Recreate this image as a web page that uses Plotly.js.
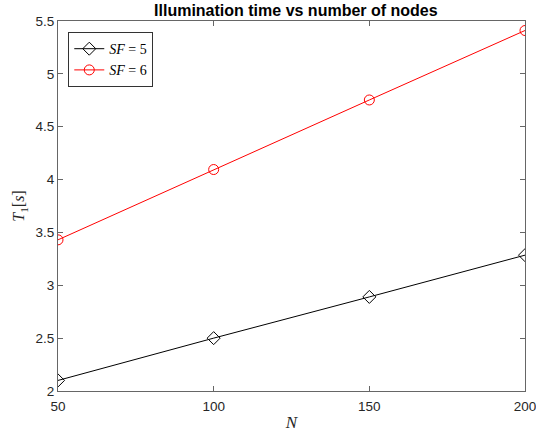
<!DOCTYPE html>
<html><head><meta charset="utf-8">
<script src="https://cdn.plot.ly/plotly-3.0.1.min.js"></script>
<style>html,body{margin:0;padding:0;background:#fff}#chart{width:536px;height:432px}</style>
</head><body><div id="chart"></div>
<script>
const nodes = [50, 100, 150, 200];
const sf5 = [2.10, 2.50, 2.89, 3.285];
const sf6 = [3.43, 4.095, 4.753, 5.41];
const xTicks = [50, 100, 150, 200];
const yTicks = [2, 2.5, 3, 3.5, 4, 4.5, 5, 5.5];

const traces = [
  {x: nodes, y: sf5, mode: 'lines+markers', name: '<i>SF</i> = 5',
   line: {color: '#000000', width: 1},
   marker: {symbol: 'diamond-open', size: 10, color: '#000000', line: {width: 1, color: '#000000'}}},
  {x: nodes, y: sf6, mode: 'lines+markers', name: '<i>SF</i> = 6',
   line: {color: '#ff0000', width: 1},
   marker: {symbol: 'circle-open', size: 10, color: '#ff0000', line: {width: 1, color: '#ff0000'}}}
];

const axCommon = {
  showline: true, linecolor: '#666', linewidth: 1, mirror: 'ticks',
  ticks: 'inside', ticklen: 5, tickcolor: '#666', showgrid: false, zeroline: false,
  ticklabeloverflow: 'allow',
  tickfont: {family: 'Liberation Sans, Arial, sans-serif', size: 13.5, color: '#262626'}
};

const layout = {
  width: 536, height: 432,
  margin: {l: 58, r: 11, t: 21, b: 41},
  paper_bgcolor: '#fff', plot_bgcolor: '#fff',
  title: {text: '<b>Illumination time vs number of nodes</b>', x: 0.552, xanchor: 'center', y: 0.975, yanchor: 'middle',
          font: {family: 'Liberation Sans, Arial, sans-serif', size: 16, color: '#000'}},
  xaxis: Object.assign({}, axCommon, {range: [50, 200], tickvals: xTicks, ticktext: xTicks.map(String),
    ticklabelstandoff: 3,
    title: {text: '<i>N</i>', standoff: 2, font: {family: 'Liberation Serif, serif', size: 17, color: '#262626'}}}),
  yaxis: Object.assign({}, axCommon, {range: [2, 5.5], tickvals: yTicks, ticktext: yTicks.map(String),
    title: {text: '<i>T</i><sub>1</sub>[<i>s</i>]', standoff: 6, font: {family: 'Liberation Serif, serif', size: 16, color: '#262626'}}}),
  showlegend: true,
  legend: {x: 0.022, y: 0.97, xanchor: 'left', yanchor: 'top', bgcolor: '#fff',
    bordercolor: '#333', borderwidth: 1, tracegroupgap: 0,
    font: {family: 'Liberation Serif, serif', size: 14, color: '#000'}}
};

Plotly.newPlot('chart', traces, layout, {displayModeBar: false, staticPlot: true});
</script></body></html>
